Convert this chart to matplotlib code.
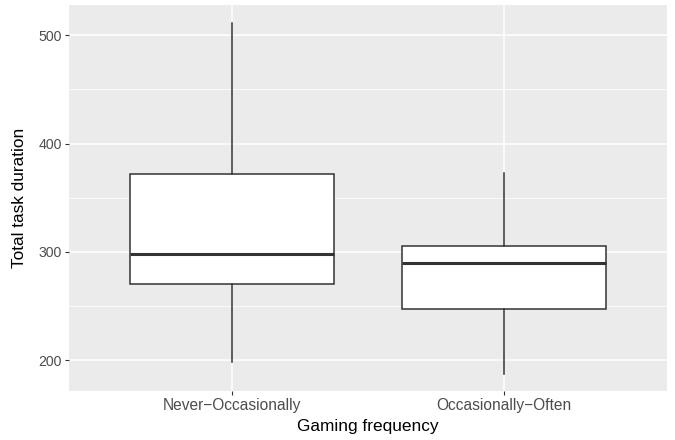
import matplotlib
matplotlib.use("Agg")
import matplotlib.pyplot as plt

plt.rcParams['font.family'] = ['Liberation Sans', 'DejaVu Sans']

# summary stats per gaming-frequency group
groups = ['Never\u2212Occasionally', 'Occasionally\u2212Often']
whisker_low = [198.5, 187.7]
q1 = [270.0, 247.5]
median = [298.1, 290.0]
q3 = [371.9, 305.5]
whisker_high = [511.4, 372.8]

stats = []
for i, g in enumerate(groups):
    stats.append(dict(label=g, whislo=whisker_low[i], q1=q1[i], med=median[i],
                      q3=q3[i], whishi=whisker_high[i], fliers=[]))

fig = plt.figure(figsize=(6.75, 4.4), dpi=100)
ax = fig.add_axes([69 / 675, (440 - 390.5) / 440, 598 / 675, 385.5 / 440])
ax.set_facecolor('#EBEBEB')

line = '#333333'
ax.bxp(stats, positions=[1, 2], widths=0.75, showcaps=False, patch_artist=True,
       boxprops=dict(facecolor='white', edgecolor=line, linewidth=1.1),
       whiskerprops=dict(color=line, linewidth=1.1),
       medianprops=dict(color=line, linewidth=2.2),
       zorder=3)

ax.set_xlim(0.4, 2.6)
ax.set_ylim(172.2, 527.8)
ax.set_yticks([200, 300, 400, 500])
ax.set_yticks([250, 350, 450], minor=True)
ax.set_xticks([1, 2])
ax.set_xticklabels(groups)

ax.grid(True, which='major', color='white', linewidth=1.1, zorder=0)
ax.grid(True, which='minor', axis='y', color='white', linewidth=0.55, zorder=0)
ax.set_axisbelow(True)

for s in ax.spines.values():
    s.set_visible(False)
ax.tick_params(which='major', length=2.75, width=0.8, color='#333333',
               labelcolor='#4D4D4D', pad=2.5)
ax.tick_params(axis='x', which='major', labelsize=11.2)
ax.tick_params(axis='y', which='major', labelsize=10.2)
ax.tick_params(which='minor', length=0)

ax.set_xlabel('Gaming frequency', fontsize=12.4, color='black', va='center')
ax.set_ylabel('Total task duration', fontsize=12.4, color='black', va='center')
ax.xaxis.set_label_coords(0.5, (390.5 - 426) / 385.5)
ax.yaxis.set_label_coords((20 - 69) / 598, 0.5)

fig.savefig('out.png', dpi=100)
